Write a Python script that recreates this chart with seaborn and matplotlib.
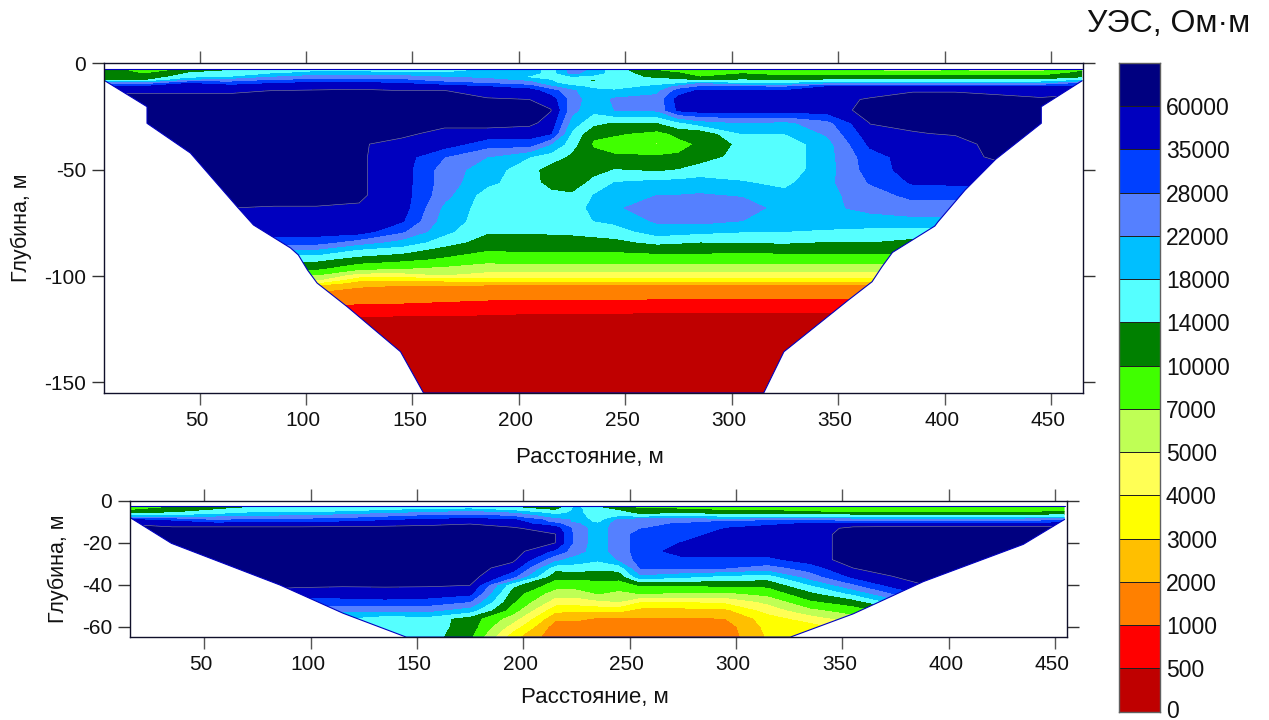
import matplotlib
matplotlib.use('Agg')
import matplotlib.pyplot as plt
from matplotlib.colors import ListedColormap
from matplotlib.patches import Polygon
from matplotlib.transforms import ScaledTranslation
import seaborn as sns
import numpy as np

# scale of the legend, Ohm*m (the top one has no label in the picture)
levels = [0, 500, 1000, 2000, 3000, 4000, 5000, 7000, 10000, 14000, 18000, 22000, 28000, 35000, 60000, 100000]
level_labels = [0, 500, 1000, 2000, 3000, 4000, 5000, 7000, 10000, 14000, 18000, 22000, 28000, 35000, 60000]
colores = ["#BF0000", "#FF0000", "#FF8000", "#FFBF00", "#FFFF00", "#FFFF55", "#BFFF55", "#40FF00",
           "#008000", "#55FFFF", "#00BFFF", "#5580FF", "#0040FF", "#0000BF", "#000080"]

# upper section: resistivity in kOhm*m, one row per distance, one column per depth
x_top = [5, 25, 45, 65, 85, 105, 125, 145, 165, 185, 205, 215, 225, 235, 245, 265, 275, 285, 305, 325, 345, 365, 385, 405, 425, 445, 465]
z_top = [-2.8, -4.5, -6.5, -8, -9.5, -11, -13, -17, -22, -28, -33, -38, -44, -50, -56, -62, -68, -74, -79, -84, -88,
         -92, -96.5, -99.5, -101.5, -103.2, -104.8, -110, -113, -120, -155]
res_top = [
    [12, 12, 12, 14, 25, 40, 55, 80, 80, 80, 80, 80, 80, 80, 80, 80, 80, 80, 47, 31, 21, 15, 10, 7, 5, 3.5, 2.5, 1.5, 1, .4, .25],
    [8, 9.5, 12, 14, 25, 40, 55, 80, 80, 80, 80, 80, 80, 80, 80, 80, 80, 80, 47, 31, 21, 15, 10, 7, 5, 3.5, 2.5, 1.5, 1, .4, .25],
    [10.5, 14, 16, 22, 35, 45, 55, 80, 80, 80, 80, 80, 80, 80, 80, 80, 80, 80, 47, 31, 21, 15, 10, 7, 5, 3.5, 2.5, 1.5, 1, .4, .25],
    [13, 16, 18, 25, 31, 47, 55, 80, 80, 80, 80, 80, 80, 80, 80, 80, 60, 47, 47, 31, 21, 15, 10, 7, 5, 3.5, 2.5, 1.5, 1, .4, .25],
    [16, 17, 22, 28, 35, 47, 62, 80, 80, 80, 80, 80, 80, 80, 80, 80, 58, 47, 47, 31, 22, 15, 10, 7, 5, 3.5, 2.5, 1.5, 1, .4, .25],
    [16, 19, 25, 29, 45, 50, 65, 80, 80, 80, 80, 80, 80, 80, 80, 80, 58, 47, 47, 31, 21, 15, 10.5, 7, 5.5, 4, 2.5, 1.5, 1.2, .5, .25],
    [16, 19, 25, 29, 45, 50, 70, 80, 80, 80, 75, 65, 65, 65, 65, 65, 58, 50, 47, 25, 17, 12.5, 7.6, 4.5, 3.4, 2.5, 2.05, 1.5, 1, .4, .25],
    [16, 18, 25, 29, 35, 47, 62, 80, 80, 80, 72, 50, 47, 47, 47, 47, 47, 38, 29, 20.5, 15.5, 11, 7, 4.5, 3.2, 2.5, 1.9, 1.4, .98, .4, .25],
    [16, 18, 22, 25, 31, 47, 62, 80, 80, 75, 50, 47, 28, 25, 25, 24, 21, 20, 19, 16, 12, 9.5, 6.5, 5, 3.5, 2.5, 1.9, 1.4, .9, .4, .25],
    [18, 20, 21, 24, 28, 35, 47, 65, 80, 75, 50, 31, 22, 20, 19, 16, 16, 16, 14.5, 12, 10, 8, 6, 4.5, 3.5, 2.5, 1.7, 1.3, .8, .4, .25],
    [20, 20, 17, 21, 25, 31, 47, 60, 80, 70, 47, 31, 18, 15.5, 15.5, 15, 16, 16, 14.5, 12, 10.3, 8.5, 6, 4.5, 3.5, 2.5, 1.7, 1.2, .8, .35, .25],
    [16, 16, 16, 18, 19, 23, 31, 47, 62, 50, 36, 22, 16, 12, 12.5, 15, 16, 16, 14.7, 12, 10.3, 8.5, 6, 4.5, 3.5, 2.5, 1.7, 1.2, .8, .35, .25],
    [25, 24, 17, 16, 16, 19, 23, 25, 24, 20, 17, 15.5, 13, 11, 11.5, 14.5, 16, 16, 15, 12, 10.3, 8.5, 6, 4.5, 3.5, 2.5, 1.7, 1.2, .8, .35, .25],
    [21, 20, 16, 13, 16, 17, 19, 19.5, 19, 15, 11, 9.5, 11.5, 12.5, 15, 18, 19, 18, 15.5, 12.5, 10.3, 8.5, 6, 4.5, 3.5, 2.5, 1.7, 1.2, .8, .35, .25],
    [15.5, 16, 16, 16, 16, 16, 18.5, 23, 22, 13.5, 10.5, 8.5, 10.5, 14, 18, 20, 21, 19, 16, 13, 10.3, 8.5, 6, 4.5, 3.5, 2.5, 1.7, 1.2, .8, .35, .25],
    [9.5, 11, 13, 15, 16.5, 19, 21, 24, 23, 13.8, 9, 6.8, 10.5, 13, 19, 22, 27, 23, 20, 15, 11, 8.5, 6, 4.5, 3.5, 2.5, 1.7, 1.2, .7, .35, .25],
    [9, 10, 12, 15, 17.5, 24, 31, 45, 40, 17, 11, 9, 10.5, 14, 19, 22, 27, 23.5, 19.5, 14.5, 11, 8.5, 6, 4.5, 3.5, 2.5, 1.7, 1.2, .7, .35, .25],
    [8.5, 8.5, 10, 13, 22, 28, 40, 50, 47, 20, 11, 10.5, 12, 15.5, 19.5, 22.5, 27, 24, 19, 14, 11, 8.5, 6, 4.5, 3.5, 2.5, 1.7, 1.2, .7, .35, .25],
    [9, 9.8, 11, 14.5, 18, 28, 40, 50, 47, 22, 18, 15, 15.5, 16, 18.2, 21.5, 25.5, 22, 18.2, 14.2, 10.5, 8.5, 6, 4.5, 3.5, 2.5, 1.7, 1.2, .7, .35, .25],
    [9.5, 9, 10.5, 13, 18, 27, 38, 48, 47, 21, 18, 15.5, 15.5, 15.5, 17, 19, 20, 19.5, 18, 14.5, 11, 8.5, 6, 4.5, 3.5, 2.5, 1.7, 1.2, .7, .35, .25],
    [7, 8, 11, 14.5, 21, 35, 45, 50, 47, 26, 23, 20.5, 20.5, 20.5, 21, 21, 21, 20, 17.5, 13.8, 11, 8.5, 6, 4.5, 3.5, 2.5, 1.7, 1.2, .7, .35, .25],
    [6.5, 8, 11, 14.5, 21, 35, 47, 65, 75, 62, 50, 40, 32, 31, 28.5, 25, 24, 20, 17, 14, 11, 8.5, 6, 4.5, 3.5, 2.5, 1.7, 1.2, .7, .35, .25],
    [6, 8, 11, 14.5, 21, 35, 58, 80, 80, 72, 58, 47, 47, 47, 38, 30, 25, 21, 16, 13, 11, 8.5, 6, 4.5, 3.5, 2.5, 1.7, 1.2, .7, .35, .25],
    [6.5, 8, 11, 14.5, 21, 35, 58, 80, 80, 80, 65, 47, 47, 47, 40, 30, 25, 21, 16, 13, 11, 8.5, 6, 4.5, 3.5, 2.5, 1.7, 1.2, .7, .35, .25],
    [6, 8, 11, 14.5, 21, 35, 50, 80, 80, 80, 80, 80, 70, 47, 40, 30, 25, 21, 16, 13, 11, 8.5, 6, 4.5, 3.5, 2.5, 1.7, 1.2, .7, .35, .25],
    [6, 8, 11, 14.5, 21, 35, 50, 65, 80, 80, 80, 80, 70, 47, 40, 30, 25, 21, 16, 13, 11, 8.5, 6, 4.5, 3.5, 2.5, 1.7, 1.2, .7, .35, .25],
    [9, 11, 13, 18, 29, 40, 55, 70, 80, 80, 80, 80, 70, 47, 40, 30, 25, 21, 16, 13, 11, 8.5, 6, 4.5, 3.5, 2.5, 1.7, 1.2, .7, .35, .25],
]
# outline of the section (distance, depth), going down the left side and up the right one
borde_top = [(5, -2.8), (5, -7.9), (25.3, -20.4), (25.3, -28.2), (45.7, -42.2), (67.6, -67.4), (75.3, -76), (92.7, -86.8),
             (96.4, -90.1), (100.7, -97.2), (105.2, -103.3), (119.3, -114.4), (144.4, -135.6), (155.2, -155),
             (315, -155), (324.5, -135.6), (354.8, -111.3), (365.9, -102.7), (370.6, -95.6), (375.5, -88.9),
             (395.4, -76.5), (396.9, -74.5), (409.6, -59.6), (424, -45.1), (445.4, -28.2), (445.4, -20.4),
             (464.6, -8.2), (464.6, -2.8)]

# lower section
x_bot = [15, 35, 55, 75, 95, 115, 135, 155, 175, 195, 215, 225, 235, 245, 255, 275, 295, 315, 335, 355, 375, 395, 415, 435, 455]
z_bot = [-2.5, -3.5, -5, -6, -7, -8, -9, -10, -11, -13, -16, -20, -24, -28, -32, -36, -40, -44, -48, -52, -56, -60, -65]
res_bot = [
    [7.5, 8.5, 11, 14, 18, 25, 40, 50, 58, 80, 80, 80, 80, 80, 80, 80, 80, 80, 50, 30, 18, 12, 8],
    [9.5, 11, 13, 14.5, 18, 25, 31, 45, 47, 70, 80, 80, 80, 80, 80, 80, 80, 80, 50, 30, 18, 12, 8],
    [12, 13, 15, 17, 19.5, 24, 27, 31, 47, 70, 80, 80, 80, 80, 80, 80, 80, 80, 50, 30, 18, 12, 8],
    [13, 15, 17, 19, 21, 25, 29, 33, 47, 70, 80, 80, 80, 80, 80, 80, 70, 55, 40, 28, 18, 12, 8],
    [15, 16, 17, 19, 22, 26, 29, 33, 47, 70, 80, 80, 80, 80, 80, 80, 70, 47, 32, 24, 18, 14, 10],
    [15, 16, 17.5, 20, 24, 27, 30, 35, 50, 70, 80, 80, 80, 80, 80, 80, 65, 50, 32, 24, 18, 15, 12],
    [15, 16, 19, 22, 26, 29, 33, 45, 52, 72, 80, 80, 80, 80, 80, 80, 65, 52, 33, 24, 15.5, 15, 15],
    [15, 17, 20, 25, 28, 30, 40, 47, 55, 75, 80, 80, 80, 80, 80, 80, 65, 50, 32, 24, 16.5, 16, 16],
    [15, 17, 22, 26, 29, 33, 45, 50, 60, 75, 80, 80, 80, 80, 80, 80, 62, 42, 28, 20, 12, 12, 10.5],
    [13, 15, 19, 23, 27, 30, 38, 47, 50, 65, 75, 80, 80, 70, 47, 30, 15, 12, 10.5, 8.5, 6, 4.5, 3.3],
    [11, 12, 15, 17, 19, 21, 25, 26, 30, 47, 62, 60, 33, 23, 15.5, 11, 8.5, 6, 4.5, 3.3, 2.2, 1.5, 1.3],
    [18, 19, 19, 19, 20, 20, 21, 21, 23, 25, 25, 25, 24, 20, 16, 11, 8.5, 6, 4.5, 3.2, 2.2, 1.5, 1.3],
    [13, 15, 15.5, 15.5, 15.5, 15.5, 16, 16.5, 19, 20, 20, 20, 20, 18.5, 15, 11.5, 8.8, 7.2, 4.8, 3.3, 1.9, 1.5, 1.3],
    [9.5, 12, 14.5, 16, 17, 19, 23, 25, 25, 25, 25, 25, 25, 22.5, 15.5, 11.5, 8.5, 6.5, 5, 3.3, 1.9, 1.5, 1.3],
    [9, 10, 12, 13, 15.5, 19, 26, 26, 26, 27.5, 31, 31, 31, 31, 28, 21, 10.5, 7.2, 4, 2.7, 1.9, 1.5, 1.3],
    [8.5, 9.5, 12, 14, 16.5, 20.5, 24.5, 26, 29, 31, 31, 36, 47, 33, 28, 19, 10.5, 6.8, 4, 2.7, 1.9, 1.5, 1.3],
    [8, 8.5, 11, 13, 15.5, 19, 24, 29, 31, 35, 47, 47, 47, 33, 28, 17, 11, 6.7, 4.2, 2.8, 2, 1.5, 1.4],
    [8, 8.8, 11, 13.5, 15.5, 19, 26, 31, 33, 47, 47, 47, 47, 33, 25, 16, 11, 8, 5.5, 4.4, 3.5, 3.3, 3.1],
    [6.5, 7.5, 9.5, 13, 15.5, 19, 26, 31, 40, 47, 47, 47, 47, 47, 31, 25, 18, 13, 9.5, 6.5, 4.5, 3.5, 3.2],
    [6, 7.5, 9, 11.5, 15, 19, 25, 30, 47, 70, 80, 80, 80, 80, 60, 40, 27, 19, 12, 8.5, 6, 4.5, 3.5],
    [6, 7.5, 9, 11.5, 15, 19, 25, 30, 50, 70, 80, 80, 80, 80, 80, 62, 47, 29, 20, 12, 8.5, 5, 3.5],
    [6, 7.5, 9, 11.5, 15, 19, 25, 30, 50, 70, 80, 80, 80, 80, 80, 80, 70, 50, 30, 20, 12, 8, 4],
    [6, 7.5, 9, 11.5, 15, 19, 25, 30, 50, 70, 80, 80, 80, 80, 80, 80, 70, 50, 30, 20, 12, 8, 4],
    [6, 7.5, 9, 11.5, 15, 19, 25, 30, 50, 70, 80, 80, 80, 80, 80, 80, 70, 50, 30, 20, 12, 8, 4],
    [7, 8, 10, 12, 15, 19, 26, 31, 50, 70, 80, 80, 80, 80, 80, 80, 70, 50, 30, 20, 12, 8, 4],
]
borde_bot = [(15, -2.5), (15, -7.8), (34.6, -20.2), (85.6, -40.1), (115.3, -53.6), (145, -65),
             (325.5, -65), (355, -53.9), (366, -48.8), (388, -38.5), (435, -20.7), (454.4, -8.8), (454.4, -2.5)]

W, H = 1269, 720
sns.set_theme(style="ticks", rc={"axes.unicode_minus": False, "axes.linewidth": 1.0})
plt.rcParams["font.family"] = ["Liberation Sans", "DejaVu Sans"]
sns.set_palette(colores)


def caja(x0, y0, x1, y1):
    # pixel box of the reference -> figure fractions
    return [x0 / W, 1 - y1 / H, (x1 - x0) / W, (y1 - y0) / H]


def seccion(ax, xs, zs, res, borde, xlim, ylim, yticks, pos_xlabel, pos_ylabel):
    # the bands are not even, so the interpolation runs on the position along the legend
    pos = np.interp(np.array(res).T * 1000, levels, np.arange(len(levels)))
    relleno = ax.contourf(xs, zs, pos, levels=np.arange(len(levels)), colors=colores)
    lineas = ax.contour(xs, zs, pos, levels=[14], colors="#8a8ab0", linewidths=0.4)
    clip = Polygon(borde, closed=True, transform=ax.transData, facecolor="none", edgecolor="none")
    ax.add_patch(clip)
    relleno.set_clip_path(clip)
    lineas.set_clip_path(clip)
    ax.plot(*zip(*(borde[1:-1])), color="#0000BF", lw=0.8)
    ax.plot([borde[0][0], borde[-1][0]], [borde[0][1], borde[-1][1]], color="#0000BF", lw=0.8)
    ax.set_xlim(xlim)
    ax.set_ylim(ylim)
    ax.set_xticks(np.arange(50, 451, 50))
    ax.set_yticks(yticks)
    ax.tick_params(axis="x", direction="out", length=8.6, width=1.0, color="#555555",
                   top=True, labelsize=15, labelcolor="#111111", pad=4.5)
    ax.tick_params(axis="y", direction="out", length=8.6, width=1.0, color="#333333",
                   right=True, labelsize=15, labelcolor="#111111", pad=4)
    # x labels sit a little left of their ticks
    corrimiento = ScaledTranslation(-3 / 100, 0, fig.dpi_scale_trans)
    for etiqueta in ax.get_xticklabels():
        etiqueta.set_transform(etiqueta.get_transform() + corrimiento)
    for lado in ax.spines.values():
        lado.set_color("#10102a")
        lado.set_linewidth(1.0)
    ax.set_xlabel("Расстояние, м", fontsize=16, va="center", color="#111111")
    ax.set_ylabel("Глубина, м", fontsize=15.5, va="center", color="#111111")
    ax.xaxis.set_label_coords(*pos_xlabel, transform=fig.transFigure)
    ax.yaxis.set_label_coords(*pos_ylabel, transform=fig.transFigure)


fig = plt.figure(figsize=(W / 100, H / 100), dpi=100)

ax1 = fig.add_axes(caja(103.8, 63.3, 1083, 393))
seccion(ax1, x_top, z_top, res_top, borde_top, (5, 465), (-155, 0), [0, -50, -100, -150],
        (590 / W, 1 - 457 / H), (21 / W, 1 - 228 / H))

ax2 = fig.add_axes(caja(129.7, 501, 1066.7, 636.7))
seccion(ax2, x_bot, z_bot, res_bot, borde_bot, (15, 455.4), (-64.8, 0), [0, -20, -40, -60],
        (595 / W, 1 - 698 / H), (58 / W, 1 - 569 / H))

# legend as a one-column heatmap
ax3 = fig.add_axes(caja(1118.7, 62.7, 1160.3, 711.7))
indices = np.arange(len(colores))[::-1].reshape(-1, 1)
sns.heatmap(indices, ax=ax3, cmap=ListedColormap(colores), cbar=False, linewidths=0.7, linecolor="#202020",
            xticklabels=False, yticklabels=False)
ax3.yaxis.tick_right()
ax3.set_yticks(len(colores) - np.arange(len(level_labels)))
ax3.set_yticklabels(level_labels, rotation=0, fontsize=16.5, va="center_baseline")
ax3.tick_params(axis="y", length=0, pad=4, labelcolor="#111111")
# the 0 label would touch the lower edge of the figure
ax3.get_yticklabels()[0].set_transform(ax3.get_yticklabels()[0].get_transform()
                                       + ScaledTranslation(0, 3 / 100, fig.dpi_scale_trans))
for lado in ax3.spines.values():
    lado.set_visible(True)
    lado.set_color("#606060")

fig.text(1169 / W, 1 - 24 / H, "УЭС, Ом·м", fontsize=23, ha="center", va="center", color="#111111")

plt.savefig("out.png", dpi=100)
plt.close()
